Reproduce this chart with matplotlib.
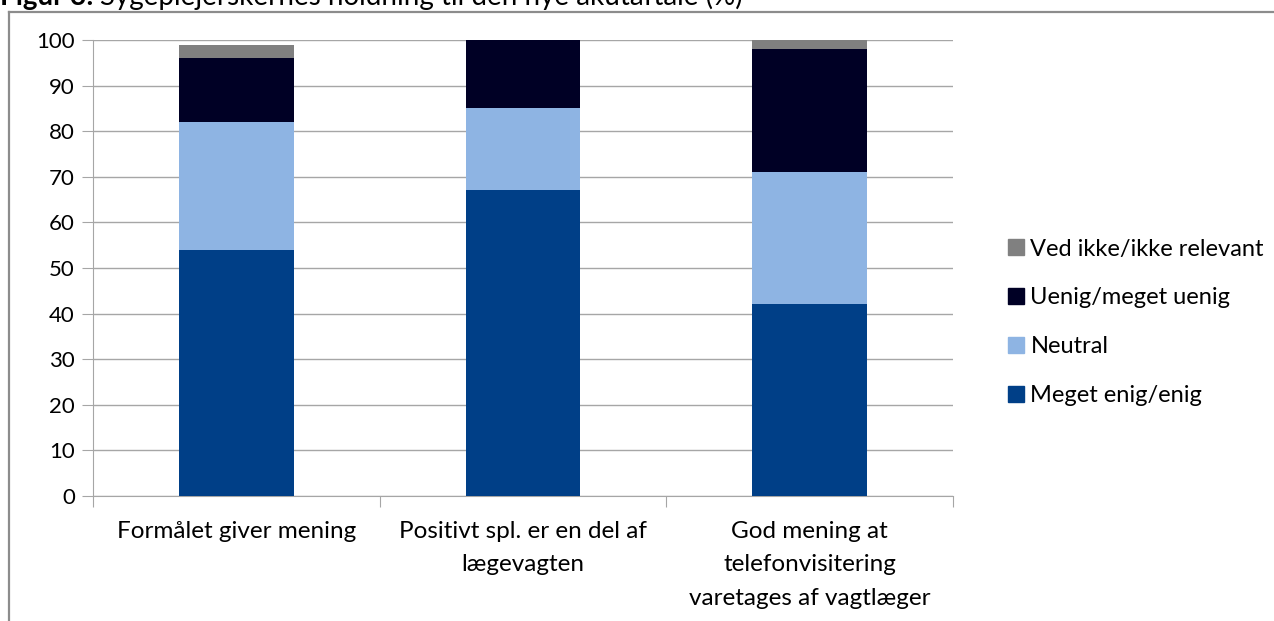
import matplotlib.pyplot as plt
import numpy as np
from matplotlib.lines import Line2D

plt.rcParams['font.family'] = ['Lato', 'DejaVu Sans']

categories = ['Formålet giver mening',
              'Positivt spl. er en del af\nlægevagten',
              'God mening at\ntelefonvisitering\nvaretages af vagtlæger']
enig = [54, 67, 42]
neutral = [28, 18, 29]
uenig = [14, 15, 27]
ved_ikke = [3, 0, 2]

series = [('Meget enig/enig', enig, '#003F87'),
          ('Neutral', neutral, '#8EB4E3'),
          ('Uenig/meget uenig', uenig, '#000025'),
          ('Ved ikke/ikke relevant', ved_ikke, '#808080')]

fig = plt.figure(figsize=(12.74, 6.21), dpi=100)
ax = fig.add_axes([93 / 1274, 1 - 496 / 621, 860 / 1274, 456 / 621])

x = np.arange(len(categories))
bottom = np.zeros(len(categories))
for name, vals, col in series:
    ax.bar(x, vals, bottom=bottom, width=0.4, color=col, label=name, zorder=3)
    bottom += np.array(vals)

ax.set_xlim(-0.5, 2.5)
ax.set_ylim(0, 100)
ax.set_yticks(range(0, 101, 10))
ax.grid(axis='y', color='#a6a6a6', linewidth=1, zorder=0)
for s in ['top', 'right']:
    ax.spines[s].set_visible(False)
ax.spines['left'].set_color('#a6a6a6')
ax.spines['bottom'].set_color('#a6a6a6')
ax.tick_params(axis='y', length=8, color='#a6a6a6', labelsize=16, pad=5)
ax.set_xticks([-0.5, 0.5, 1.5, 2.5])
ax.set_xticklabels([])
ax.tick_params(axis='x', length=8, color='#a6a6a6')
for i, lab in enumerate(categories):
    ax.text(i, -5.5, lab, ha='center', va='top', fontsize=17.5,
            linespacing=1.72, transform=ax.transData)

handles = [Line2D([], [], marker='s', linestyle='none', markersize=11,
                  color=col, label=name) for name, vals, col in series][::-1]
fig.legend(handles=handles, loc='upper left',
           bbox_to_anchor=(988 / 1274, 1 - 222 / 621), frameon=False,
           fontsize=17, labelspacing=1.18, handletextpad=0.1,
           handlelength=1.0, borderpad=0.2)

# cropped title and frame from the source document
fig.text(0 / 1274, 1 - 5 / 621, 'Figur 3:', fontsize=20, fontweight='bold',
         va='baseline', ha='left')
fig.text(100 / 1274, 1 - 5 / 621,
         'Sygeplejerskernes holdning til den nye akutaftale (%)',
         fontsize=20, va='baseline', ha='left')
fig.add_artist(Line2D([9 / 1274, 9 / 1274], [0, 1 - 12 / 621],
                      color='#8c8c8c', linewidth=1.6))
fig.add_artist(Line2D([9 / 1274, 1], [1 - 12 / 621, 1 - 12 / 621],
                      color='#8c8c8c', linewidth=1.6))

fig.savefig('out.png', dpi=100)
